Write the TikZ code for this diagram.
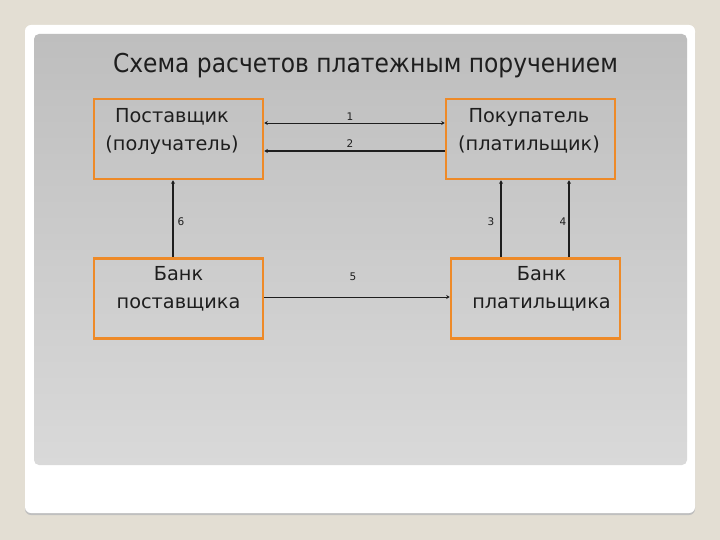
\documentclass[tikz,border=0pt]{standalone}
\usepackage{xcolor}
\usepackage{fontspec}
\setmainfont{DejaVu Sans}
\newfontfamily\titlefont{DejaVu Sans Condensed}
\usetikzlibrary{arrows.meta,positioning}

\definecolor{pagebg}{RGB}{227,222,211}
\definecolor{paneltop}{RGB}{190,190,190}
\definecolor{panelbot}{RGB}{217,217,217}
\definecolor{boxorange}{RGB}{238,138,40}
\definecolor{inkgray}{RGB}{30,30,30}

\tikzset{
    partybox/.style={draw=boxorange, line width=2.6pt, minimum width=169pt, minimum height=80pt, inner sep=0pt},
    boxtext/.style={align=center, text=inkgray, font=\fontsize{19.3}{28}\selectfont},
    numlabel/.style={text=inkgray, font=\fontsize{10.5}{12}\selectfont, inner sep=1pt},
    flow/.style={-{Stealth[length=3.5pt,width=4pt]}, inkgray}
}

\begin{document}
\begin{tikzpicture}[x=1pt, y=-1pt]
    \useasboundingbox (0,0) rectangle (720,540);
    % Draw slide background
    \fill[pagebg] (0,0) rectangle (720,540);
    \fill[black!25, rounded corners=6pt] (25,27) rectangle (695,515);
    \fill[white, rounded corners=6pt] (25,25) rectangle (695,513);
    \shade[top color=paneltop, bottom color=panelbot, rounded corners=5pt] (34,34) rectangle (687,465);
    % Draw title
    \node (title) at (365.5,66) [text=inkgray, font=\titlefont\fontsize{26}{30}\selectfont] {Схема расчетов платежным поручением};
    % Draw boxes
    \node (sup) at (178.5,139) [partybox] {};
    \node (buy) at (530.5,139) [partybox] {};
    \node (bsup) at (178.5,298.5) [partybox] {};
    \node (bbuy) at (535.5,298.5) [partybox] {};
    \node (suptext) at ([xshift=-6.5pt, yshift=8pt]sup.center) [boxtext] {Поставщик\\(получатель)};
    \node (buytext) at ([xshift=-1.5pt, yshift=8pt]buy.center) [boxtext] {Покупатель\\(платильщик)};
    \node (bsuptext) at ([yshift=10pt]bsup.center) [boxtext] {Банк\\поставщика};
    \node (bbuytext) at ([xshift=6pt, yshift=10pt]bbuy.center) [boxtext] {Банк\\платильщика};
    % Draw flows between boxes
    \draw[{Stealth[length=3.5pt,width=4pt]}-{Stealth[length=3.5pt,width=4pt]}, inkgray, line width=0.9pt] ([yshift=16pt]sup.east) -- ([yshift=16pt]buy.west);
    \draw[flow, line width=1.8pt] ([yshift=-12pt]buy.west) -- ([yshift=-12pt]sup.east);
    \draw[flow, line width=1.8pt] ([xshift=-5.5pt]bsup.north) -- ([xshift=-5.5pt]sup.south);
    \draw[flow, line width=1.8pt] ([xshift=-34.5pt]bbuy.north) -- ([xshift=-29.5pt]buy.south);
    \draw[flow, line width=1.8pt] ([xshift=33.5pt]bbuy.north) -- ([xshift=38.5pt]buy.south);
    \draw[flow, line width=0.9pt] ([yshift=1.5pt]bsup.east) -- ([yshift=1.5pt]bbuy.west);
    % Draw flow numbers
    \node (n1) at (350,117) [numlabel] {1};
    \node (n2) at (350,144) [numlabel] {2};
    \node (n3) at (491,222) [numlabel] {3};
    \node (n4) at (563,222) [numlabel] {4};
    \node (n5) at (353,277) [numlabel] {5};
    \node (n6) at (181,222) [numlabel] {6};
\end{tikzpicture}
\end{document}
